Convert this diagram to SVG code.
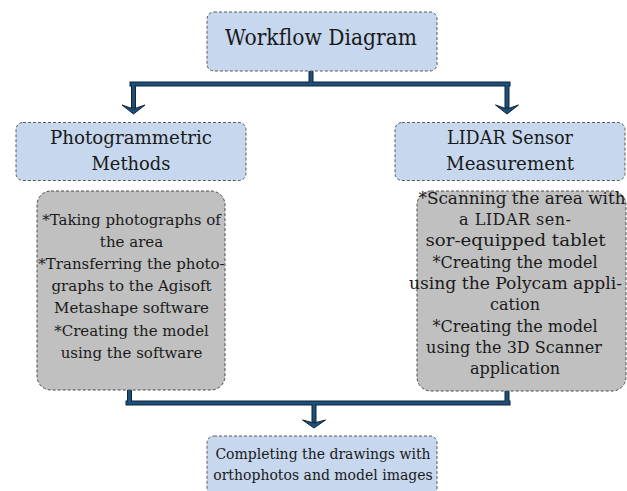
<svg xmlns="http://www.w3.org/2000/svg" width="627" height="491" viewBox="0 0 627 491">
<style>
  .blue { fill: #c6d7ee; stroke: #5a5a5a; stroke-width: 1; stroke-dasharray: 3 2; }
  .gray { fill: #c0c0c0; stroke: #4a4a4a; stroke-width: 1; stroke-dasharray: 3 2; }
  text { font-family: "DejaVu Serif", "Liberation Serif", serif; fill: #1a1a1a; text-anchor: middle; }
  .t1 { font-size: 22px; }
  .t2 { font-size: 19px; }
  .t3 { font-size: 15px; }
  .t3r { font-size: 16px; }
  .t4 { font-size: 14px; }
  .outer { fill: none; stroke: #0c2438; stroke-width: 5; stroke-linejoin: miter; stroke-linecap: square; }
  .inner { fill: none; stroke: #1f4e79; stroke-width: 3; stroke-linejoin: miter; stroke-linecap: square; }
  .head { fill: #1f4e79; stroke: #0c2438; stroke-width: 1; }
</style>
<g id="connectors">
  <path class="outer" d="M311 72 V84 M132 84 H508 M133.5 84 V106 M507 84 V106"/>
  <path class="inner" d="M311 72 V84 M132 84 H508 M133.5 84 V106 M507 84 V106"/>
  <polygon class="head" points="122,105 133.5,109 145,105 133.5,114"/>
  <polygon class="head" points="495.5,105 507,109 518.5,105 507,114"/>
  <path class="outer" d="M129.5 391 V403 M128 403 H508 M507 391 V403 M314 403 V421"/>
  <path class="inner" d="M129.5 391 V403 M128 403 H508 M507 391 V403 M314 403 V421"/>
  <polygon class="head" points="302.5,420 314,423 325.5,420 314,428"/>
</g>
<g id="workflow">
  <rect class="blue" x="207" y="12" width="230" height="59" rx="7"/>
  <text class="t1" x="321" y="45" textLength="192" lengthAdjust="spacingAndGlyphs">Workflow Diagram</text>
</g>
<g id="photogrammetric">
  <rect class="blue" x="16" y="122.5" width="230" height="58" rx="7"/>
  <text class="t2" x="131" y="144" textLength="162" lengthAdjust="spacingAndGlyphs">Photogrammetric</text>
  <text class="t2" x="131" y="170" textLength="79" lengthAdjust="spacingAndGlyphs">Methods</text>
</g>
<g id="lidar">
  <rect class="blue" x="395" y="122.5" width="230" height="58" rx="7"/>
  <text class="t2" x="510" y="144" textLength="126" lengthAdjust="spacingAndGlyphs">LIDAR Sensor</text>
  <text class="t2" x="510" y="170" textLength="128" lengthAdjust="spacingAndGlyphs">Measurement</text>
</g>
<g id="photo-steps">
  <rect class="gray" x="37" y="191" width="188" height="199" rx="14"/>
  <text class="t3" x="131.5" y="225">*Taking photographs of</text>
  <text class="t3" x="131.5" y="247">the area</text>
  <text class="t3" x="131.5" y="269">*Transferring the photo-</text>
  <text class="t3" x="131.5" y="291">graphs to the Agisoft</text>
  <text class="t3" x="131.5" y="313">Metashape software</text>
  <text class="t3" x="131.5" y="336">*Creating the model</text>
  <text class="t3" x="131.5" y="358">using the software</text>
</g>
<g id="lidar-steps">
  <rect class="gray" x="417" y="191" width="209" height="200" rx="14"/>
  <text class="t3r" x="522" y="204" textLength="207" lengthAdjust="spacingAndGlyphs">*Scanning the area with</text>
  <text class="t3r" x="515" y="225" textLength="112" lengthAdjust="spacing">a LIDAR sen-</text>
  <text class="t3r" x="515.5" y="246" textLength="180" lengthAdjust="spacingAndGlyphs">sor-equipped tablet</text>
  <text class="t3r" x="515" y="268">*Creating the model</text>
  <text class="t3r" x="515.5" y="289" textLength="213" lengthAdjust="spacingAndGlyphs">using the Polycam appli-</text>
  <text class="t3r" x="515" y="310">cation</text>
  <text class="t3r" x="515" y="332">*Creating the model</text>
  <text class="t3r" x="514" y="353">using the 3D Scanner</text>
  <text class="t3r" x="515" y="374">application</text>
</g>
<g id="completing">
  <rect class="blue" x="207" y="436" width="230" height="62" rx="7"/>
  <text class="t4" x="323" y="459">Completing the drawings with</text>
  <text class="t4" x="323" y="480">orthophotos and model images</text>
</g>
</svg>
